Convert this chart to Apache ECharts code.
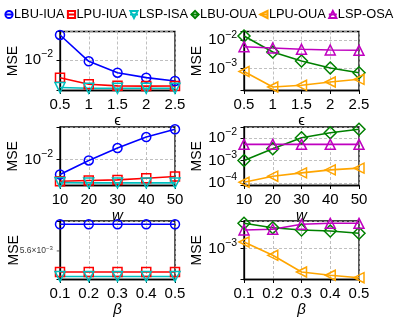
<!DOCTYPE html>
<html><head><meta charset="utf-8">
<script src="https://cdn.jsdelivr.net/npm/echarts@6/dist/echarts.min.js"></script>
<style>html,body{margin:0;padding:0;background:#fff}#c{width:399px;height:319px}</style>
</head><body><div id="c"></div>
<script>
// ---- categories / x values ----
const epsVals = [0.5, 1, 1.5, 2, 2.5];
const wVals = [10, 20, 30, 40, 50];
const betaVals = [0.1, 0.2, 0.3, 0.4, 0.5];
const seriesNames = ['LBU-IUA', 'LPU-IUA', 'LSP-ISA', 'LBU-OUA', 'LPU-OUA', 'LSP-OSA'];

// ---- epsilon panels ----
const epsLBU_IUA = [0.0270, 0.00950, 0.00604, 0.00496, 0.00434];
const epsLPU_IUA = [0.00496, 0.00381, 0.00358, 0.00355, 0.00356];
const epsLSP_ISA = [0.00335, 0.00325, 0.00325, 0.00325, 0.00325];
const epsLBU_OUA = [0.01416, 0.00388, 0.00187, 0.00106, 0.000723];
const epsLPU_OUA = [0.000796, 0.000227, 0.000260, 0.000340, 0.000423];
const epsLSP_OSA = [0.00595, 0.00536, 0.00482, 0.00455, 0.00444];

// ---- w panels ----
const wLBU_IUA = [0.00551, 0.00961, 0.01566, 0.02424, 0.03291];
const wLPU_IUA = [0.00422, 0.00435, 0.00445, 0.00476, 0.00509];
const wLSP_ISA = [0.00400, 0.00395, 0.00395, 0.00395, 0.00395];
const wLBU_OUA = [0.00100, 0.00332, 0.01032, 0.01726, 0.02450];
const wLPU_OUA = [0.000107, 0.000199, 0.000280, 0.000382, 0.000455];
const wLSP_OSA = [0.00523, 0.00523, 0.00523, 0.00523, 0.00523];

// ---- beta panels ----
const betaLBU_IUA = [0.005902, 0.005902, 0.005902, 0.005902, 0.005902];
const betaLPU_IUA = [0.005373, 0.005373, 0.005373, 0.005373, 0.005373];
const betaLSP_ISA = [0.005326, 0.005326, 0.005326, 0.005326, 0.005326];
const betaLBU_OUA = [0.00659, 0.00476, 0.00401, 0.00372, 0.00314];
const betaLPU_OUA = [0.001645, 0.000612, 0.000177, 0.000139, 0.000116];
const betaLSP_OSA = [0.00401, 0.00423, 0.00612, 0.00659, 0.00659];

// ---- y axis ranges (log) ----
const yRangeEpsIn = [0.002979, 0.03099];
const yRangeEpsOut = [0.0001706, 0.02042];
const yRangeWIn = [0.003565, 0.03606];
const yRangeWOut = [0.0000766, 0.03102];
const yRangeBetaIn = [0.005294, 0.005940];
const yRangeBetaOut = [0.0001015, 0.007823];
const betaInMinorTick = 0.0056;
const betaInMinorTickLabel = ['5.6\u00d710', '\u22123'];

const FONT = '"Liberation Sans", Arial, Helvetica, sans-serif';
const styles = {
  'LBU-IUA': {color: '#0000ff', symbol: 'circle', size: 9, rot: 0},
  'LPU-IUA': {color: '#ff0000', symbol: 'rect', size: 9, rot: 0},
  'LSP-ISA': {color: '#00bfbf', symbol: 'triangle', size: 10, rot: 180},
  'LBU-OUA': {color: '#008000', symbol: 'diamond', size: 12, rot: 0},
  'LPU-OUA': {color: '#ffa500', symbol: 'triangle', size: 10, rot: 90},
  'LSP-OSA': {color: '#bf00bf', symbol: 'triangle', size: 10, rot: 0}
};

const gridBoxes = [
  {left: 60, top: 31.5, width: 115, height: 59},
  {left: 244, top: 31.5, width: 115, height: 59},
  {left: 60, top: 127, width: 115, height: 58.5},
  {left: 244, top: 127, width: 115, height: 58.5},
  {left: 60, top: 221, width: 115, height: 58.5},
  {left: 244, top: 221, width: 115, height: 58.5}
];

const xDefs = [
  {vals: epsVals, min: 0.5, max: 2.5, interval: 0.5, name: 'ϵ', italic: false},
  {vals: epsVals, min: 0.5, max: 2.5, interval: 0.5, name: 'ϵ', italic: false},
  {vals: wVals, min: 10, max: 50, interval: 10, name: 'w', italic: true},
  {vals: wVals, min: 10, max: 50, interval: 10, name: 'w', italic: true},
  {vals: betaVals, min: 0.1, max: 0.5, interval: 0.1, name: 'β', italic: true},
  {vals: betaVals, min: 0.1, max: 0.5, interval: 0.1, name: 'β', italic: true}
];
const yRanges = [yRangeEpsIn, yRangeEpsOut, yRangeWIn, yRangeWOut, yRangeBetaIn, yRangeBetaOut];

const panelSeries = [
  [['LBU-IUA', epsLBU_IUA], ['LPU-IUA', epsLPU_IUA], ['LSP-ISA', epsLSP_ISA]],
  [['LBU-OUA', epsLBU_OUA], ['LPU-OUA', epsLPU_OUA], ['LSP-OSA', epsLSP_OSA]],
  [['LBU-IUA', wLBU_IUA], ['LPU-IUA', wLPU_IUA], ['LSP-ISA', wLSP_ISA]],
  [['LBU-OUA', wLBU_OUA], ['LPU-OUA', wLPU_OUA], ['LSP-OSA', wLSP_OSA]],
  [['LBU-IUA', betaLBU_IUA], ['LPU-IUA', betaLPU_IUA], ['LSP-ISA', betaLSP_ISA]],
  [['LBU-OUA', betaLBU_OUA], ['LPU-OUA', betaLPU_OUA], ['LSP-OSA', betaLSP_OSA]]
];

const supRich = {
  b: {fontSize: 15, fontFamily: FONT, color: '#000', lineHeight: 22},
  s: {fontSize: 10.5, fontFamily: FONT, color: '#000', lineHeight: 10, verticalAlign: 'top'}
};

function powLabel(v) {
  const e = Math.log10(v);
  const r = Math.round(e);
  if (Math.abs(e - r) < 1e-6) return '{b|10}{s|' + (r < 0 ? '\u2212' + (-r) : r) + '}';
  return '';
}

const grid = gridBoxes.map(g => Object.assign({show: true, borderColor: '#000', borderWidth: 1.3, backgroundColor: 'transparent'}, g));

const xAxis = xDefs.map((d, i) => ({
  type: 'value', gridIndex: i, min: d.min, max: d.max, interval: d.interval,
  name: d.name, nameLocation: 'middle', nameGap: 22,
  nameTextStyle: {fontSize: 15, fontFamily: FONT, color: '#000', fontStyle: d.italic ? 'italic' : 'normal'},
  axisLine: {show: true, lineStyle: {color: '#000', width: 1.3}},
  axisTick: {show: true, length: 3.5, lineStyle: {color: '#000', width: 1}},
  axisLabel: {fontSize: 15, fontFamily: FONT, color: '#000', margin: 6.5},
  splitLine: {show: true, lineStyle: {color: '#b0b0b0', width: 0.8, type: [3, 2]}}
}));

const yAxis = yRanges.map((r, i) => ({
  type: 'log', logBase: 10, gridIndex: i, min: r[0], max: r[1],
  name: 'MSE', nameLocation: 'middle', nameGap: 39,
  nameTextStyle: {fontSize: 14, fontFamily: FONT, color: '#000'},
  axisLine: {show: true, lineStyle: {color: '#000', width: 1.3}},
  axisTick: {show: true, length: 3.5, lineStyle: {color: '#000', width: 1}},
  axisLabel: {margin: 7, formatter: powLabel, rich: supRich},
  splitLine: {show: true, lineStyle: {color: '#b0b0b0', width: 0.8, type: [3, 2]}}
}));

const series = [];
panelSeries.forEach((list, gi) => {
  list.forEach(([name, ys]) => {
    const st = styles[name];
    series.push({
      type: 'line', name: name, xAxisIndex: gi, yAxisIndex: gi,
      data: xDefs[gi].vals.map((x, k) => [x, ys[k]]),
      symbol: st.symbol, symbolSize: st.size, symbolRotate: st.rot,
      showAllSymbol: true, clip: true,
      lineStyle: {color: st.color, width: 1.6},
      itemStyle: {color: 'rgba(0,0,0,0)', borderColor: st.color, borderWidth: 1.5},
      emphasis: {disabled: true}
    });
  });
});

// minor tick + label on the beta inner panel (placed by the y scale)
series.push({
  type: 'scatter', name: 'minorTick', xAxisIndex: 4, yAxisIndex: 4, clip: false, silent: true,
  data: [[betaVals[0], betaInMinorTick]],
  symbol: 'rect', symbolSize: [2.5, 0.8], symbolOffset: [-2, 0],
  itemStyle: {color: '#000'},
  label: {show: true, position: 'left', distance: 4, color: '#000',
    formatter: '{m|' + betaInMinorTickLabel[0] + '}{t|' + betaInMinorTickLabel[1] + '}',
    rich: {
      m: {fontSize: 8.5, fontFamily: FONT, color: '#000', lineHeight: 12},
      t: {fontSize: 6, fontFamily: FONT, color: '#000', lineHeight: 6, verticalAlign: 'top'}
    }},
  emphasis: {disabled: true}
});

const option = {
  animation: false,
  backgroundColor: '#fff',
  legend: {
    data: seriesNames, left: 4, top: 8, padding: 0, width: 395,
    itemWidth: 8, itemHeight: 9, itemGap: 2,
    textStyle: {fontSize: 12.8, fontFamily: FONT, color: '#000', padding: [0, 0, 0, -4]},
    selectedMode: false
  },
  grid: grid, xAxis: xAxis, yAxis: yAxis, series: series
};

const chart = echarts.init(document.getElementById('c'), null, {renderer: 'canvas'});
chart.setOption(option);
</script></body></html>
